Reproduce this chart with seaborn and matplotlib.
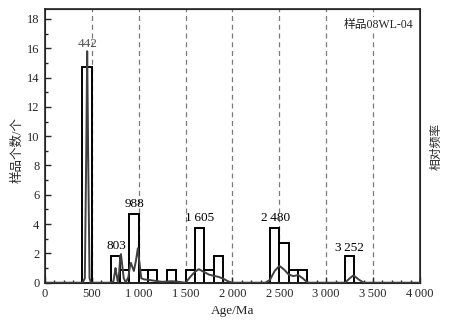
import pandas as pd
import matplotlib
matplotlib.use("Agg")
import matplotlib.pyplot as plt
import seaborn as sns
from matplotlib.ticker import MultipleLocator

# 直方图: 每 100 Ma 一个区间 (区间起点, 高度)
bin_start = [400, 700, 800, 900, 1000, 1100, 1300, 1500, 1600, 1700, 1800,
             2400, 2500, 2600, 2700, 3200]
bin_count = [14.7, 1.8, 0.85, 4.7, 0.85, 0.85, 0.85, 0.85, 3.7, 0.85, 1.8,
             3.7, 2.7, 0.85, 0.85, 1.8]

# 相对频率曲线
curve_age = [0, 400, 425, 440, 450, 460, 475, 490, 700, 730, 745, 752, 762,
             776, 790, 803, 810, 820, 840, 862, 890, 905, 917, 930, 948, 970,
             990, 1005, 1027, 1060, 1100, 1150, 1200, 1250, 1300, 1350, 1400,
             1450, 1500, 1550, 1600, 1640, 1700, 1750, 1800, 1850, 1900, 1950,
             2000, 2350, 2400, 2450, 2500, 2550, 2600, 2650, 2700, 2750, 2800,
             3200, 3250, 3290, 3350, 3400, 4000]
curve_val = [0, 0, 0.3, 9, 15.8, 9, 0.3, 0, 0, 0.1, 0.7, 1.0, 0.6,
             0.05, 0.6, 1.8, 1.95, 1.4, 0.3, 0.02, 0.4, 1.1, 1.35, 1.1, 0.8, 1.5,
             2.35, 1.5, 0.3, 0.22, 0.2, 0.15, 0.1, 0.06, 0.08, 0.1, 0.08,
             0.04, 0, 0.4, 0.75, 0.92, 0.72, 0.55, 0.47, 0.4, 0.28, 0.1,
             0, 0, 0.2, 0.8, 1.15, 0.9, 0.55, 0.45, 0.52, 0.3, 0,
             0, 0.3, 0.5, 0.2, 0, 0]

# 峰值标注
peak_text = ["442", "803", "988", "1\u2009605", "2\u2009480", "3\u2009252"]
peak_x = [460, 760, 955, 1645, 2455, 3252]
peak_y = [16.3, 2.5, 5.4, 4.45, 4.45, 2.4]

guide_lines = [500, 1000, 1500, 2000, 2500, 3000, 3500]
xticks = [0, 500, 1000, 1500, 2000, 2500, 3000, 3500, 4000]
xtick_labels = ["0", "500", "1\u2009000", "1\u2009500", "2\u2009000",
                "2\u2009500", "3\u2009000", "3\u2009500", "4\u2009000"]

hist_df = pd.DataFrame({"age": bin_start, "count": bin_count})

sns.set_style("ticks")
plt.rcParams["font.family"] = ["Liberation Serif", "Noto Sans CJK SC", "DejaVu Sans"]
plt.rcParams["axes.unicode_minus"] = False

fig, ax = plt.subplots(figsize=(4.52, 3.22), dpi=100)
fig.subplots_adjust(left=45 / 452, right=420 / 452,
                    top=1 - 9.3 / 322, bottom=1 - 282.7 / 322)

for gx in guide_lines:
    ax.axvline(gx, color="#7a7a7a", lw=0.9, ls=(0, (4, 3)), zorder=0)

sns.histplot(data=hist_df, x="age", weights="count",
             binwidth=100, binrange=(0, 4000), color="white", edgecolor="black",
             linewidth=1.4, alpha=1, ax=ax, zorder=2)
sns.lineplot(x=curve_age, y=curve_val, color="#404040", lw=1.4,
             estimator=None, ax=ax, zorder=3)

for t, px, py in zip(peak_text, peak_x, peak_y):
    ax.text(px, py, t, ha="center", va="center", fontsize=9.5,
            color="#555555" if t == "442" else "black", zorder=4)

ax.text(0.982, 0.965, "样品08WL-04", transform=ax.transAxes, ha="right",
        va="top", fontsize=8.5, zorder=5,
        bbox=dict(facecolor="white", edgecolor="none", pad=1.5))

ax.set_xlim(0, 4000)
ax.set_ylim(0, 18.66)
ax.set_xticks(xticks)
ax.set_xticklabels(xtick_labels)
ax.xaxis.set_minor_locator(MultipleLocator(100))
ax.yaxis.set_major_locator(MultipleLocator(2))
ax.yaxis.set_minor_locator(MultipleLocator(1))
ax.tick_params(which="both", direction="in", labelsize=9, width=1)
ax.tick_params(which="major", length=4, pad=4)
ax.tick_params(which="minor", length=2.5)
for sp in ax.spines.values():
    sp.set_linewidth(1.2)
    sp.set_visible(True)

ax.set_xlabel("Age/Ma", fontsize=9.5)
ax.set_ylabel("样品个数/个", fontsize=9)
ax.xaxis.set_label_coords(0.5, -0.082)
ax.yaxis.set_label_coords(-0.058, 0.485)

ax2 = ax.twinx()
ax2.set_yticks([])
ax2.set_ylabel("相对频率", fontsize=8.5)
ax2.yaxis.set_label_coords(1.027, 0.5)

fig.savefig("out.png", dpi=100)
